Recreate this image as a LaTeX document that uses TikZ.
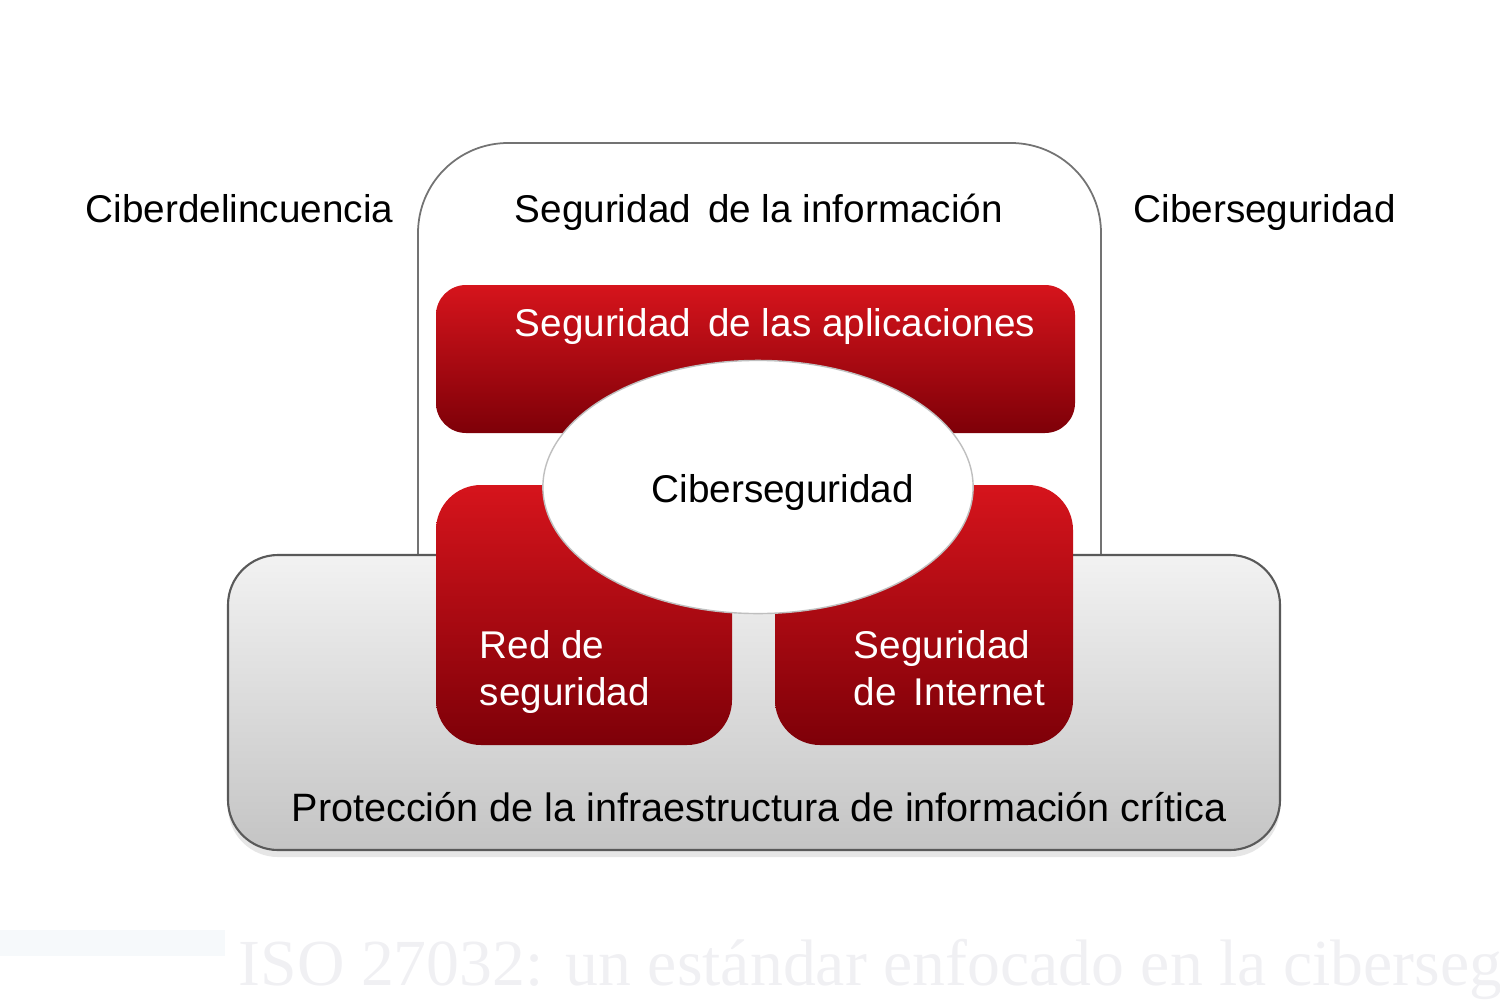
\documentclass[tikz,border=0pt]{standalone}
\usepackage{fontspec}
\setmainfont{Liberation Sans}
\newfontfamily\serifwm{Liberation Serif}
\usetikzlibrary{shadows,shapes.geometric}
\definecolor{redtop}{HTML}{D6141C}
\definecolor{redbot}{HTML}{7E0008}
\definecolor{graytop}{HTML}{F2F2F2}
\definecolor{graybot}{HTML}{C4C4C4}
\definecolor{faintblue}{HTML}{F6F9FB}
\definecolor{fainttext}{HTML}{F0F0F3}
\tikzset{
  lbl/.style={font=\fontsize{11}{13.3}\selectfont, inner sep=0pt, text=black},
  wlbl/.style={lbl, text=white, align=left},
  redbox/.style={top color=redtop, bottom color=redbot, draw=none},
}
\begin{document}
\begin{tikzpicture}[x=0.01cm,y=-0.01cm]
\useasboundingbox (0,0) rectangle (1500,1000);
\clip (0,0) rectangle (1500,1000);
% outer information security frame
\draw[draw=black!55, line width=0.5pt, fill=white, rounded corners=0.9cm] (418,143) rectangle (1101,720);
% gray infrastructure box
\path[drop shadow={opacity=0.2, shadow xshift=0pt, shadow yshift=-2pt}] (228,555) [rounded corners=0.5cm] rectangle (1280,850);
\shade[top color=graytop, bottom color=graybot, draw=black!65, line width=0.6pt, rounded corners=0.5cm] (228,555) rectangle (1280,850);
% red boxes
\shade[redbox, rounded corners=0.3cm] (436,285) rectangle (1075,433);
\shade[redbox, rounded corners=0.45cm] (436,485) rectangle (732,745);
\shade[redbox, rounded corners=0.45cm] (775,485) rectangle (1073,745);
% ellipse
\node[ellipse, draw=black!25, line width=0.4pt, fill=white, minimum width=4.3cm, minimum height=2.53cm, inner sep=0pt] (cyber) at (758,487) {};
% labels
\node[lbl, anchor=base west] (cdel) at (85,222) {Ciberdelincuencia};
\node[lbl, anchor=base west] (sinfo) at (514,222) {Seguridad\, de la información};
\node[lbl, anchor=base west] (cseg) at (1133,222) {Ciberseguridad};
\node[wlbl, anchor=base west] (sapp) at (514,336) {Seguridad\, de las aplicaciones};
\node[lbl, anchor=base west] (ccen) at (651,502) {Ciberseguridad};
\node[wlbl, anchor=base west] (red1) at (479,658) {Red de};
\node[wlbl, anchor=base west] (red2) at (479,705) {seguridad};
\node[wlbl, anchor=base west] (int1) at (853,658) {Seguridad};
\node[wlbl, anchor=base west] (int2) at (853,705) {de\, Internet};
\node[lbl, anchor=base west, font=\fontsize{11.25}{13.5}\selectfont] (prot) at (291,821) {Protección de la infraestructura de información crítica};
% faint title remnant
\fill[faintblue] (0,930) rectangle (225,956);
\node[inner sep=0pt, anchor=base west, text=fainttext, font=\serifwm\fontsize{18.7}{22}\selectfont] (title) at (238,985) {ISO 27032: un estándar enfocado en la ciberseguridad};
\end{tikzpicture}
\end{document}
